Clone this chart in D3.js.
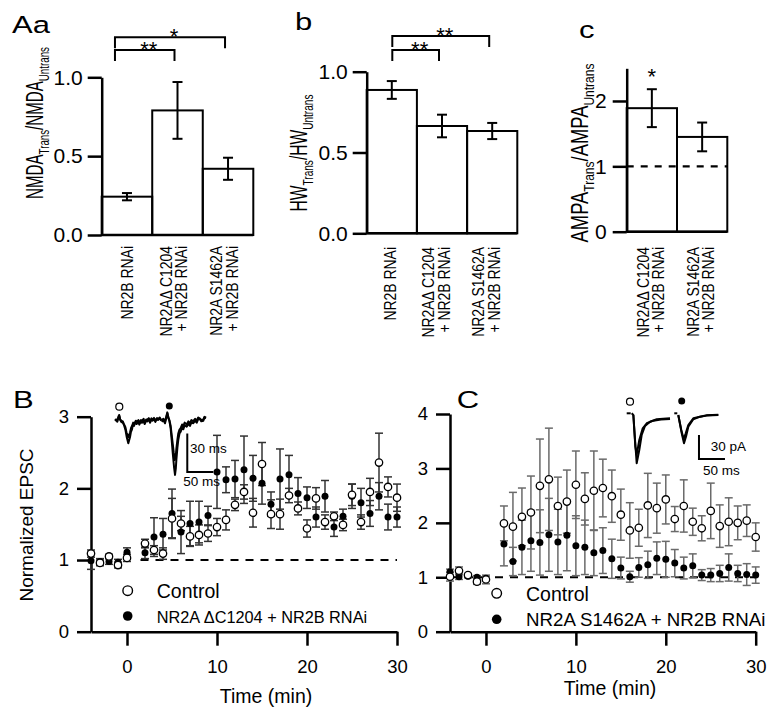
<!DOCTYPE html>
<html><head><meta charset="utf-8">
<script src="https://cdn.jsdelivr.net/npm/d3@7/dist/d3.min.js"></script>
<style>body{margin:0;background:#fff}</style>
</head><body><script>
// ---------------- DATA ----------------
const catA = ["NR2B RNAi", "NR2AΔ C1204|+ NR2B RNAi", "NR2A S1462A|+ NR2B RNAi"];
const nmdaRatio = [0.243, 0.79, 0.42];
const nmdaSem   = [0.023, 0.18, 0.07];
const hwRatio   = [0.887, 0.664, 0.633];
const hwSem     = [0.055, 0.07, 0.05];
const catC = ["NR2AΔ C1204|+ NR2B RNAi", "NR2A S1462A|+ NR2B RNAi"];
const ampaRatio = [1.89, 1.45];
const ampaSem   = [0.29, 0.22];
const ticksAb = [0, 0.5, 1.0];
const ticksC  = [0, 1, 2];
const sigA = [{a:0, b:2, lab:"*", lvl:0}, {a:0, b:1, lab:"**", lvl:1}];
const sigB = [{a:0, b:2, lab:"**", lvl:0}, {a:0, b:1, lab:"**", lvl:1}];
const sigC = [{bar:0, lab:"*"}];

const timeMin = [-4,-3,-2,-1,0,2,3,4,5,6,7,8,9,10,11,12,13,14,15,16,17,18,19,20,21,22,23,24,25,26,27,28,29,30];
const timeTicks = [0,10,20,30];
// Panel B
const bCtrl    = [1.09,0.96,1.05,0.93,1.03, 1.23,1.14,1.09,1.58,1.51,1.33,1.35,1.37,1.46,1.56,1.77,1.95,1.66,2.34,1.64,1.64,1.90,1.72,1.44,1.86,1.53,1.61,1.49,1.91,1.53,1.95,2.36,2.02,1.87];
const bCtrlSem = [0.05,0.04,0.03,0.04,0.05, 0.06,0.06,0.08,0.28,0.10,0.14,0.14,0.11,0.12,0.14,0.08,0.10,0.20,0.30,0.20,0.21,0.10,0.09,0.12,0.15,0.10,0.06,0.08,0.15,0.10,0.19,0.41,0.14,0.19];
const bMut     = [0.99,0.98,0.98,0.97,1.11, 1.10,1.32,1.36,1.65,1.39,1.51,1.53,1.62,2.23,2.12,2.13,2.26,2.14,2.07,1.78,2.13,2.19,1.93,1.87,1.60,1.89,1.46,1.61,1.89,1.80,1.65,1.89,1.60,1.60];
const bMutSem  = [0.12,0.04,0.04,0.04,0.06, 0.08,0.27,0.22,0.34,0.30,0.31,0.29,0.13,0.51,0.18,0.26,0.47,0.32,0.29,0.17,0.42,0.27,0.22,0.15,0.14,0.22,0.13,0.10,0.17,0.20,0.18,0.19,0.18,0.14];
// Panel C
const cCtrl    = [1.01,1.12,1.04,0.92,0.96, 1.99,1.93,2.11,2.19,2.68,2.80,2.31,2.39,2.70,2.44,2.59,2.64,2.49,2.15,1.86,1.91,2.32,2.27,2.43,2.07,2.31,2.02,1.90,2.22,1.94,2.02,2.00,2.04,1.74];
const cCtrlSem = [0.08,0.07,0.03,0.05,0.08, 0.32,0.63,0.53,0.67,0.86,0.94,0.53,0.58,0.62,0.48,0.73,0.53,0.48,0.47,0.51,0.34,0.59,0.46,0.45,0.23,0.48,0.25,0.23,0.51,0.39,0.44,0.31,0.29,0.26];
const cMut     = [1.10,1.01,1.02,1.00,0.98, 1.61,1.29,1.55,1.67,1.64,1.78,1.65,1.77,1.58,1.55,1.45,1.49,1.34,1.17,1.01,1.18,1.23,1.35,1.33,1.26,1.17,1.21,1.04,1.04,1.07,1.18,1.07,1.05,1.04];
const cMutSem  = [0.05,0.05,0.03,0.03,0.04, 0.40,0.26,0.50,0.56,0.60,0.67,0.60,0.65,0.55,0.50,0.42,0.42,0.36,0.20,0.10,0.18,0.25,0.30,0.33,0.25,0.20,0.22,0.10,0.12,0.15,0.25,0.15,0.20,0.15];

// Example traces (ms, amplitude) for insets
const trBCtrl1 = [[0,0],[2,1],[4.5,-0.8],[6,1.5],[8.3,3.7],[10,0.5],[12.2,-1],[15,-1.5],[17.3,-3.4],[20,-7],[22.4,-12.5],[25.6,-17.7],[28.8,-13],[30.5,-9],[32.7,-6.7],[34.5,-3],[36.5,-4.1],[39,-1.5],[41.7,-2.6],[44,-0.8],[46.8,-3.1],[49,-1],[51.9,-1.6],[54,0.5],[57.1,-2.6],[60,0],[62.2,-0.5],[65,1.2],[67.3,-1.6],[70,0.8],[72.4,0],[75,1.5],[77.6,-1],[80,1.5],[82.7,0.5],[86,1.8],[89,0]];
const trBCtrl2 = [[0,0.5],[4,0],[6,2.5],[8,4.5],[10,1],[12,0],[15,-0.5],[17,-2.5],[20,-5],[22,-9],[25.6,-13],[29,-9],[31,-5.5],[33,-4],[35,-1.5],[37,-2.5],[40,0],[42,-1],[45,0.5],[47,-2],[50,0.5],[52,0],[55,1.5],[57,-1.5],[60,1],[62,0.8],[65,2],[67,-0.5],[70,1.8],[72,1],[75,2.2],[78,0],[81,2],[83,1.2],[86,2.5],[89,0.5]];
const trBMut1 = [[89.7,-0.8],[93,0.5],[96.2,-2],[98.5,2],[100.6,5.8],[102.5,2],[104.5,0],[107,-6],[109,-15],[111,-25],[113.5,-36],[115.4,-42.4],[117,-37],[118,-30.7],[120,-21],[121.7,-15],[124,-10],[126.3,-8.6],[129,-5.5],[131.5,-6.7],[134,-3.5],[137.9,-4.7],[141,-2.5],[144.2,-4.1],[147,-1.5],[150.6,-2],[154,0],[157.1,-1.6],[160,1.2],[163.5,1.1],[166,-0.5],[169.9,0],[172,2.5],[175,1.8]];
const trBMut2 = [[89.7,0],[93,1.5],[96,-1],[98.5,3],[100.6,6.5],[102.5,3],[104.5,0.5],[107,-4],[109,-11],[111,-18],[113,-25],[115,-30.7],[117,-27],[118,-22],[120,-15],[121.7,-10],[124,-7],[126,-6],[129,-3],[131,-4.5],[134,-1.5],[138,-3],[141,-0.5],[144,-2],[147,0.5],[150,-0.5],[154,1.5],[157,0],[160,2.5],[163,1.8],[166,0.5],[170,1],[172,3],[175,2.5]];
const trCCtrl1 = [[9.6,0],[12.8,-2.1],[16,-33],[19.2,-62.5],[24.2,-45.9],[28.8,-27.1],[35.2,-15.9],[44.8,-10.5],[57.7,-7.5],[70,-6.8],[83.3,-6.3]];
const trCCtrl2 = [[12.8,-2.1],[16.6,-41.7],[19.2,-52],[24.2,-33.4],[30.8,-18.8],[38.5,-12.5],[51.3,-9.2],[66,-7.8],[83.3,-7.1]];
const trCMut1 = [[99.2,-2.1],[105.8,-25],[110.2,-37.5],[114,-29.2],[118.5,-16.7],[128.1,-7.5],[141,-4.2],[153.8,-2.9],[176.2,-2.1]];
const trCMut2 = [[99.2,-2.1],[105,-20.9],[109.6,-32.5],[113.5,-25],[118.5,-14.6],[128.1,-6.3],[153.8,-2.5],[176.2,-1.7]];
const stimCCtrl = [[0,0],[7.7,0]];
const stimCMut = [[91.5,0],[97.3,0]];
const scaleBarB = {ms:[139,189], amp:[-40,-10], labV:"30 ms", labH:"50 ms"};
const scaleBarC = {ms:[139,189], amp:[-57,-27], labV:"30 pA", labH:"50 ms"};

// ---------------- DRAWING ----------------
const FONT = "'Liberation Sans', Arial, Helvetica, sans-serif";
const svg = d3.select("body").append("svg").attr("width",778).attr("height",714)
  .attr("font-family", FONT);

function addText(parent, x, y, o) {
  let tr = `translate(${x},${y})`;
  if (o.sx || o.sy) tr += ` scale(${o.sx||1},${o.sy||1})`;
  if (o.rot) tr += ` rotate(${o.rot})`;
  const t = parent.append("text").attr("transform", tr).attr("font-family", FONT)
    .attr("font-size", o.size).attr("text-anchor", o.anchor||"start").attr("fill","#000");
  if (o.parts) {
    let prevSub = false;
    o.parts.forEach(p => {
      const ts = t.append("tspan").text(p.t);
      if (p.sub) { ts.attr("font-size", o.subSize).attr("dy", prevSub?0:o.subDy); }
      else if (prevSub) ts.attr("dy", -o.subDy);
      prevSub = !!p.sub;
    });
  } else t.text(o.text);
  return t;
}

function barPanel(o) {
  const g = svg.append("g");
  const x = d3.scaleBand().domain(o.cats.map((c,i)=>i)).range(o.xr).paddingInner(0).paddingOuter(0);
  const y = d3.scaleLinear().domain(o.yd).range(o.yr);
  const bw = x.bandwidth();
  if (o.dash) g.append("line").attr("x1",o.xr[0]).attr("x2",o.xr[1]).attr("y1",y(o.dash)).attr("y2",y(o.dash))
      .attr("stroke","#000").attr("stroke-width",2.2).attr("stroke-dasharray","7,7");
  g.selectAll("rect.bar").data(o.vals).join("rect").attr("class","bar")
    .attr("x",(d,i)=>x(i)).attr("y",d=>y(d)).attr("width",bw).attr("height",d=>y(0)-y(d))
    .attr("fill","none").attr("stroke","#000").attr("stroke-width",2);
  const eg = g.append("g").attr("stroke","#000").attr("stroke-width",2);
  o.vals.forEach((v,i)=>{
    const cx = x(i)+bw/2, e=o.sem[i];
    eg.append("line").attr("x1",cx).attr("x2",cx).attr("y1",y(v+e)).attr("y2",y(v-e));
    [v+e,v-e].forEach(w=>eg.append("line").attr("x1",cx-5).attr("x2",cx+5).attr("y1",y(w)).attr("y2",y(w)));
  });
  const ax = d3.axisLeft(y).tickValues(o.ticks).tickFormat(o.fmt).tickSize(14).tickSizeOuter(0).tickPadding(o.pad);
  const ag = g.append("g").attr("transform",`translate(${o.xr[0]},0)`).call(ax);
  ag.attr("font-family",FONT).attr("font-size",o.tickSize);
  ag.select(".domain").attr("stroke-width",2.5);
  ag.selectAll(".tick line").attr("stroke-width",2.5);
  ag.selectAll(".tick text").attr("fill","#000");
  g.append("line").attr("x1",o.xr[0]).attr("x2",o.xr[1]).attr("y1",y(0)).attr("y2",y(0)).attr("stroke","#000").attr("stroke-width",2.5);
  // category labels (rotated)
  o.cats.forEach((c,i)=>{
    const lines = c.split("|");
    lines.forEach((ln,k)=>{
      const cx = x(i)+bw/2 + (lines.length>1 ? o.lshift + (k-0.5)*15.5 : o.sshift);
      addText(g, cx+6, o.labTop, {text:ln, size:17, anchor:"end", rot:-90, sy:0.82});
    });
  });
  // significance brackets
  (o.sig||[]).forEach(s=>{
    if (s.bar!==undefined) {
      const cx = x(s.bar)+bw/2, v=o.vals[s.bar]+o.sem[s.bar];
      addText(g, cx, y(v)-5, {text:s.lab, size:22, anchor:"middle"});
      return;
    }
    const yb = o.brY[s.lvl];
    const x1 = x(s.a)+bw/2+o.brL, x2 = x(s.b)+bw/2+o.brR;
    g.append("path").attr("d",`M${x1},${yb+11}V${yb}H${x2}V${yb+11}`).attr("fill","none").attr("stroke","#000").attr("stroke-width",2);
    addText(g, (x1+x2)/2+4, yb+6.5, {text:s.lab, size:22, anchor:"middle"});
  });
  return {x,y};
}

barPanel({cats:catA, vals:nmdaRatio, sem:nmdaSem, xr:[101.7,253.3], yd:[0,1], yr:[235,77.3], ticks:ticksAb,
  fmt:d3.format(".1f"), pad:5, tickSize:21, labTop:246, lshift:-4, sshift:0.5,
  sig:sigA, brY:[37.3,50], brL:-12, brR:-3});
barPanel({cats:catA, vals:hwRatio, sem:hwSem, xr:[366.7,517.3], yd:[0,1], yr:[233.3,71.7], ticks:ticksAb,
  fmt:d3.format(".1f"), pad:5, tickSize:21, labTop:247, lshift:-6, sshift:-2,
  sig:sigB, brY:[36,50], brL:0.5, brR:-3});
barPanel({cats:catC, vals:ampaRatio, sem:ampaSem, xr:[626.7,727.3], yd:[0,2.5], yr:[231.7,68.3], ticks:ticksC,
  fmt:d3.format("d"), pad:6, tickSize:21, labTop:247, lshift:-1.5, sshift:0,
  sig:sigC, dash:1});

// y labels top row
addText(svg, 43, 123, {rot:-90, anchor:"middle", size:24, subSize:15.5, subDy:6, sy:0.63,
  parts:[{t:"NMDA"},{t:"Trans",sub:1},{t:"/NMDA"},{t:"Untrans",sub:1}]});
addText(svg, 306.5, 153, {rot:-90, anchor:"middle", size:24, subSize:15.5, subDy:6, sy:0.65,
  parts:[{t:"HW"},{t:"Trans",sub:1},{t:"/HW"},{t:"Untrans",sub:1}]});
addText(svg, 588, 153, {rot:-90, anchor:"middle", size:23, subSize:15, subDy:6, sy:0.8,
  parts:[{t:"AMPA"},{t:"Trans",sub:1},{t:"/AMPA"},{t:"Untrans",sub:1}]});

// panel letters
[["Aa",12,33],["b",295,30],["c",579,37.7],["B",13,408.3],["C",456.7,408.3]].forEach(([s,x,y])=>
  addText(svg, x, y, {text:s, size:31, sy:0.76}));

// ---------------- time course panels ----------------
function timePanel(o) {
  const g = svg.append("g");
  const x = d3.scaleLinear().domain([-4,30]).range(o.xr);
  const y = d3.scaleLinear().domain([0,o.ymax]).range(o.yr);
  g.append("line").attr("x1",x(o.dashFrom)).attr("x2",x(30)).attr("y1",y(1)).attr("y2",y(1))
    .attr("stroke","#000").attr("stroke-width",2).attr("stroke-dasharray","8,7");
  const yAxis = d3.axisLeft(y).tickValues(d3.range(0,o.ymax+1)).tickFormat(d3.format("d")).tickSize(14).tickSizeOuter(0).tickPadding(8);
  const ya = g.append("g").attr("transform",`translate(${o.xr[0]},0)`).call(yAxis);
  const xAxis = d3.axisBottom(x).tickValues(timeTicks).tickFormat(d3.format("d")).tickSize(14).tickSizeOuter(0).tickPadding(14.5);
  const xa = g.append("g").attr("transform",`translate(0,${o.yr[0]})`).call(xAxis);
  [ya,xa].forEach(a=>{ a.attr("font-family",FONT).attr("font-size",18.5);
    a.selectAll("path,line").attr("stroke-width",2.5); a.selectAll("text").attr("fill","#000"); });
  const eg = g.append("g").attr("stroke",o.errColor).attr("stroke-width",1.5);
  [[o.mut,o.mutSem],[o.ctrl,o.ctrlSem]].forEach(([vals,sem])=>{
    vals.forEach((v,i)=>{
      const cx = x(timeMin[i]), e = sem[i];
      eg.append("line").attr("x1",cx).attr("x2",cx).attr("y1",y(v+e)).attr("y2",y(v-e));
      [v+e,v-e].forEach(w=>eg.append("line").attr("x1",cx-4).attr("x2",cx+4).attr("y1",y(w)).attr("y2",y(w)));
    });
  });
  g.selectAll("circle.mut").data(o.mut).join("circle").attr("class","mut")
    .attr("cx",(d,i)=>x(timeMin[i])).attr("cy",d=>y(d)).attr("r",3.5).attr("fill","#000");
  g.selectAll("circle.ctrl").data(o.ctrl).join("circle").attr("class","ctrl")
    .attr("cx",(d,i)=>x(timeMin[i])).attr("cy",d=>y(d)).attr("r",3.7).attr("fill","#fff").attr("stroke","#000").attr("stroke-width",1.3);
  // legend
  const L = o.leg;
  g.append("circle").attr("cx",L.x).attr("cy",L.y1).attr("r",4.8).attr("fill","#fff").attr("stroke","#000").attr("stroke-width",1.4);
  g.append("circle").attr("cx",L.x).attr("cy",L.y2).attr("r",4.8).attr("fill","#000");
  addText(g, L.tx, L.y1+7.5, {text:"Control", size:19.5});
  addText(g, L.tx, L.y2+6.8, {text:o.mutName, size:L.s2});
  addText(g, o.timeLab[0], o.timeLab[1], {text:"Time (min)", size:19.5, anchor:"middle"});
  return {x,y};
}

timePanel({xr:[91,397], yr:[631.7,416.7], ymax:3, dashFrom:1.5, errColor:"#333",
  ctrl:bCtrl, ctrlSem:bCtrlSem, mut:bMut, mutSem:bMutSem, mutName:"NR2A ΔC1204 + NR2B RNAi",
  leg:{x:127.7, y1:590.7, y2:616, tx:156.7, s2:16.3}, timeLab:[266,703]});
timePanel({xr:[450,755.7], yr:[631.7,414], ymax:4, dashFrom:-4, errColor:"#6a6a6a",
  ctrl:cCtrl, ctrlSem:cCtrlSem, mut:cMut, mutSem:cMutSem, mutName:"NR2A S1462A + NR2B RNAi",
  leg:{x:496.7, y1:593.3, y2:619.3, tx:526, s2:18.7}, timeLab:[610,695]});

addText(svg, 32.5, 525, {text:"Normalized EPSC", size:19, rot:-90, anchor:"middle"});

// ---------------- insets ----------------
function inset(o) {
  const g = svg.append("g");
  const x = d3.scaleLinear().domain([0,50]).range([o.x0, o.x0+26]);
  const y = d3.scaleLinear().domain([0,30]).range([o.y0, o.y0-o.pp30]);
  const line = d3.line().x(d=>x(d[0])).y(d=>y(d[1]));
  o.traces.forEach(tr=>g.append("path").attr("d",line(tr)).attr("fill","none").attr("stroke","#000")
     .attr("stroke-width",o.sw).attr("stroke-linejoin","round"));
  const sb = o.bar;
  g.append("path").attr("d",`M${x(sb.ms[0])},${y(sb.amp[1])}V${y(sb.amp[0])}H${x(sb.ms[1])}`)
    .attr("fill","none").attr("stroke","#000").attr("stroke-width",2);
  addText(g, o.lv[0], o.lv[1], {text:sb.labV, size:13.5});
  addText(g, o.lh[0], o.lh[1], {text:sb.labH, size:13.5});
  g.append("circle").attr("cx",o.m1[0]).attr("cy",o.m1[1]).attr("r",3.5).attr("fill","#fff").attr("stroke","#000").attr("stroke-width",1.2);
  g.append("circle").attr("cx",o.m2[0]).attr("cy",o.m2[1]).attr("r",3.5).attr("fill","#000");
}
inset({x0:115, y0:420.7, pp30:38.4, traces:[trBCtrl1,trBCtrl2,trBMut1,trBMut2], sw:2, bar:scaleBarB,
  lv:[190,452.5], lh:[183.3,486], m1:[119.3,406.7], m2:[169.3,406]});
inset({x0:626.7, y0:413.3, pp30:24, traces:[stimCCtrl,stimCMut,trCCtrl1,trCCtrl2,trCMut1,trCMut2], sw:2, bar:scaleBarC,
  lv:[710.7,451.3], lh:[703,474.5], m1:[630,401.7], m2:[681.7,401]});
</script></body></html>
